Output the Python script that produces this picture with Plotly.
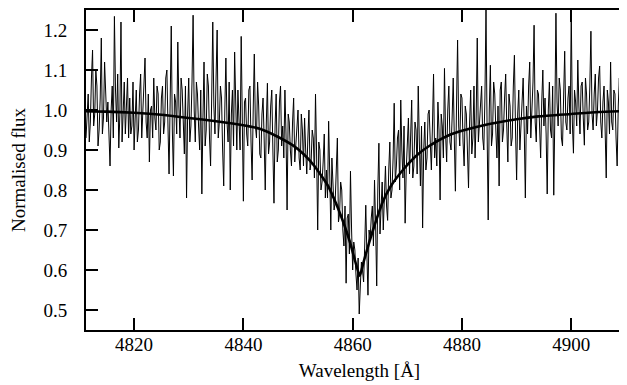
import numpy as np
import plotly.graph_objects as go

wl_start = 4811.2
wl_step = 0.2
flux = [
    0.93, 1.01, 1.04, 0.92, 0.97, 1.08, 1.15, 0.96, 0.99, 1.10, 1.06, 0.91, 0.95, 1.03, 1.18, 0.94, 0.98, 1.12, 1.05, 0.97,
    1.02, 0.95, 0.86, 1.00, 1.06, 0.93, 1.234, 1.05, 0.97, 1.09, 0.905, 0.99, 1.22, 0.92, 1.01, 1.07, 0.94, 1.00, 1.08, 0.93,
    1.03, 0.94, 0.96, 1.07, 0.90, 0.98, 1.05, 0.92, 0.95, 1.04, 1.09, 0.93, 0.99, 1.06, 1.13, 0.97, 0.93, 1.04, 0.87, 1.00,
    1.01, 0.93, 1.08, 0.98, 0.95, 1.06, 1.04, 0.90, 0.92, 1.03, 1.06, 0.94, 0.97, 1.08, 1.10, 0.96, 0.84, 1.02, 1.21, 0.95,
    0.835, 1.04, 1.02, 0.94, 1.17, 1.01, 0.93, 1.08, 1.05, 0.97, 0.89, 1.06, 0.78, 0.99, 1.08, 0.92, 0.96, 1.07, 1.237, 1.00,
    0.92, 1.07, 1.04, 0.96, 0.90, 1.05, 0.79, 0.98, 1.12, 0.91, 0.95, 1.09, 1.06, 0.93, 0.86, 1.03, 1.22, 1.01, 0.94, 1.08,
    1.20, 0.93, 0.97, 1.06, 1.03, 0.90, 0.81, 1.00, 1.13, 0.97, 0.92, 1.07, 0.80, 0.99, 1.05, 0.91, 1.145, 1.02, 0.90, 1.05,
    0.99, 0.90, 1.184, 0.95, 0.772, 1.02, 1.03, 0.94, 0.91, 1.05, 1.06, 0.92, 0.825, 1.00, 1.14, 0.96, 0.93, 1.07, 1.01, 0.89,
    0.88, 0.99, 1.03, 0.93, 0.80, 0.97, 1.067, 0.89, 0.92, 1.01, 1.05, 0.90, 0.767, 0.96, 1.04, 0.87, 0.90, 1.02, 1.06, 0.91,
    0.96, 0.88, 1.05, 0.94, 0.75, 0.99, 0.97, 0.90, 0.86, 0.97, 1.03, 0.87, 0.92, 0.95, 1.00, 0.88, 0.85, 0.99, 0.95, 0.86,
    0.98, 0.90, 0.84, 0.93, 1.00, 0.85, 0.87, 0.95, 0.93, 0.83, 1.04, 0.89, 0.70, 0.92, 0.90, 0.80, 0.82, 0.87, 0.94, 0.78,
    0.85, 0.78, 0.972, 0.84, 0.70, 0.88, 0.83, 0.75, 0.77, 0.86, 0.93, 0.72, 0.74, 0.82, 0.80, 0.70, 0.66, 0.76, 0.567, 0.73,
    0.74, 0.64, 0.847, 0.70, 0.60, 0.67, 0.65, 0.59, 0.55, 0.63, 0.49, 0.56, 0.62, 0.60, 0.57, 0.66, 0.762, 0.64, 0.537, 0.70,
    0.68, 0.73, 0.76, 0.66, 0.825, 0.71, 0.56, 0.80, 0.917, 0.69, 0.75, 0.82, 0.70, 0.79, 0.86, 0.76, 0.724, 0.85, 0.92, 0.78,
    0.80, 0.88, 1.017, 0.82, 0.86, 0.93, 0.95, 0.80, 1.025, 0.90, 0.83, 0.96, 0.717, 0.85, 0.91, 0.98, 0.84, 0.92, 1.025, 0.83,
    0.86, 0.97, 0.95, 0.84, 1.06, 0.92, 0.81, 0.96, 0.705, 0.90, 0.97, 0.85, 0.88, 0.99, 1.00, 0.92, 0.85, 0.96, 1.09, 0.88,
    0.93, 0.86, 1.02, 0.95, 0.775, 0.99, 0.96, 0.88, 1.104, 0.94, 0.87, 1.00, 1.06, 0.92, 0.90, 0.98, 1.08, 0.93, 0.797, 1.01,
    1.175, 0.96, 0.91, 1.04, 1.03, 0.92, 0.86, 1.01, 0.99, 0.90, 0.805, 0.97, 1.05, 0.89, 0.93, 1.06, 0.88, 0.98, 1.18, 0.92,
    0.97, 1.02, 1.06, 0.93, 0.90, 1.03, 1.25, 0.95, 0.725, 1.00, 1.112, 0.91, 0.94, 1.07, 1.04, 0.95, 0.88, 1.01, 0.81, 1.05,
    1.07, 0.92, 0.95, 1.03, 1.09, 0.96, 0.87, 1.04, 1.01, 0.91, 0.93, 1.06, 1.137, 0.95, 0.825, 0.99, 1.05, 0.90, 0.96, 1.04,
    1.08, 0.95, 0.78, 1.01, 0.94, 1.06, 1.12, 0.93, 0.99, 1.07, 1.212, 0.97, 0.92, 1.05, 1.04, 0.94, 0.88, 1.02, 1.10, 0.96,
    1.03, 0.94, 0.79, 1.00, 1.07, 0.95, 0.93, 1.06, 0.787, 0.99, 1.242, 1.02, 0.96, 1.08, 1.05, 0.93, 0.91, 1.03, 1.147, 0.97,
    0.95, 1.03, 1.06, 0.94, 1.25, 0.97, 0.892, 1.05, 1.02, 0.96, 1.125, 1.01, 0.94, 1.06, 1.07, 0.98, 0.912, 1.08, 1.04, 0.95,
    0.97, 1.06, 1.197, 0.99, 0.95, 1.04, 1.09, 0.96, 1.00, 1.08, 1.11, 0.97, 0.93, 1.02, 1.06, 0.95, 0.83, 1.05, 1.02, 0.94,
    1.12, 0.97, 0.95, 1.05, 1.04, 0.93, 0.86, 1.01, 1.08, 0.96, 0.94, 1.07, 1.06, 0.92, 0.83, 1.03, 1.10, 0.95, 1.147, 1.00,
    0.98,
]
wavelength = np.round(wl_start + wl_step * np.arange(len(flux)), 2)

# Fitted profile
fit_wavelength = [4811.2, 4815, 4820, 4825, 4830, 4835, 4840, 4843, 4846, 4849,
                  4851, 4853, 4855.5, 4857, 4858.4, 4859.5, 4860.5, 4861.3,
                  4862, 4863, 4864.2, 4865.5, 4867, 4869.5, 4872, 4874,
                  4877.6, 4880, 4885, 4890, 4894, 4900, 4905, 4911.3]
fit_flux = [0.997, 0.996, 0.993, 0.988, 0.980, 0.972, 0.962, 0.953, 0.935, 0.912,
            0.890, 0.860, 0.810, 0.765, 0.715, 0.670, 0.620, 0.585,
            0.620, 0.668, 0.720, 0.770, 0.810, 0.855, 0.890, 0.910,
            0.937, 0.948, 0.965, 0.977, 0.984, 0.990, 0.995, 0.998]

x_ticks = [4820, 4840, 4860, 4880, 4900]
y_ticks = [0.5, 0.6, 0.7, 0.8, 0.9, 1.0, 1.1, 1.2]

fig = go.Figure()
fig.add_trace(go.Scatter(x=wavelength, y=flux, mode="lines",
                         line=dict(color="black", width=1),
                         showlegend=False, hoverinfo="skip"))
fig.add_trace(go.Scatter(x=fit_wavelength, y=fit_flux, mode="lines",
                         line=dict(color="black", width=2.6, shape="spline", smoothing=0.5),
                         showlegend=False, hoverinfo="skip"))

font = dict(family="Liberation Serif", size=19, color="black")

fig.update_layout(
    width=627, height=385,
    margin=dict(l=78, r=2, t=2, b=63, autoexpand=False),
    paper_bgcolor="white", plot_bgcolor="white",
    font=font,
    showlegend=False,
)
fig.update_xaxes(
    range=[4811.2, 4911.3], tickvals=x_ticks, ticktext=[str(v) for v in x_ticks],
    ticks="inside", ticklen=12, tickwidth=2, tickcolor="black",
    showline=True, linewidth=2, linecolor="black", mirror="ticks",
    showgrid=False, zeroline=False, automargin=False,
    title=dict(text="Wavelength [Å]", font=dict(size=19), standoff=10),
    ticklabelstandoff=-4,
)
fig.update_yaxes(
    range=[0.45, 1.25], tickvals=y_ticks, ticktext=[f"{v:.1f}" for v in y_ticks],
    ticks="inside", ticklen=12, tickwidth=2, tickcolor="black",
    showline=True, linewidth=2, linecolor="black", mirror="ticks",
    showgrid=False, zeroline=False, automargin=False,
    title=dict(text="Normalised flux", font=dict(size=19), standoff=19),
    ticklabelstandoff=13,
)

fig.write_html("out.html")
